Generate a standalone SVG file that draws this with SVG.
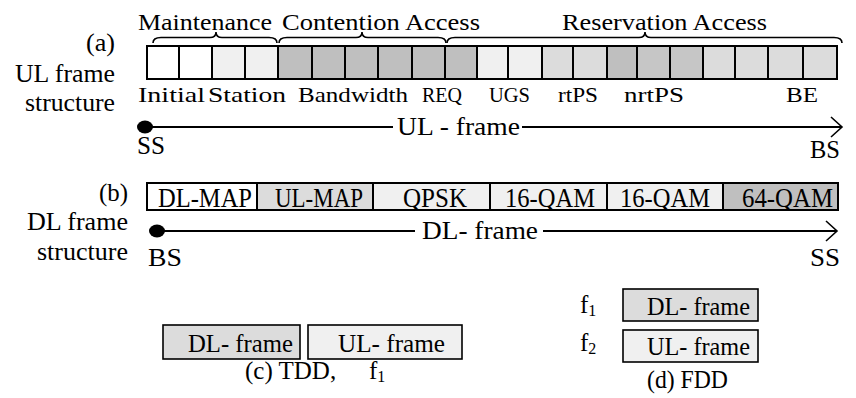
<svg xmlns="http://www.w3.org/2000/svg" width="856" height="398" viewBox="0 0 856 398">
  <style>
    text { font-family: "Liberation Serif", "Times New Roman", serif; fill: #000; }
    .cell { stroke: #000; stroke-width: 2; }
    .frame { fill: none; stroke: #000; stroke-width: 2; }
    .brace { fill: none; stroke: #000; stroke-width: 1.6; }
    .line { stroke: #000; stroke-width: 2; fill: none; }
    .w { fill: #ffffff; }
    .l1 { fill: #f0f0f0; }
    .l2 { fill: #dcdcdc; }
    .g1 { fill: #bfbfbf; }
    .g2 { fill: #c6c6c6; }
    .box { stroke: #000; stroke-width: 1.6; }
    .hdr { font-size: 24px; }
    .lbl { font-size: 22px; }
    .cap { font-size: 25px; }
    .burst { font-size: 27px; }
    .mode { font-size: 26px; }
  </style>
  <defs>
    <marker id="open-arrow" markerUnits="userSpaceOnUse" markerWidth="16" markerHeight="24" refX="12" refY="11" orient="auto">
      <path d="M1,1 L12,11 L1,21" fill="none" stroke="#000" stroke-width="1.6"/>
    </marker>
  </defs>

  <rect width="856" height="398" fill="#fff"/>

  <!-- side captions -->
  <g id="captions">
    <text class="cap" x="86" y="51" textLength="29" lengthAdjust="spacingAndGlyphs">(a)</text>
    <text class="cap" x="15" y="82" textLength="100" lengthAdjust="spacingAndGlyphs">UL frame</text>
    <text class="cap" x="25" y="111" textLength="90" lengthAdjust="spacingAndGlyphs">structure</text>
    <text class="cap" x="99" y="201" textLength="29" lengthAdjust="spacingAndGlyphs">(b)</text>
    <text class="cap" x="27" y="230" textLength="101" lengthAdjust="spacingAndGlyphs">DL frame</text>
    <text class="cap" x="37" y="260" textLength="91" lengthAdjust="spacingAndGlyphs">structure</text>
  </g>

  <!-- UL frame: access groups -->
  <g id="ul-groups">
    <text class="hdr" x="138" y="30" textLength="134" lengthAdjust="spacingAndGlyphs">Maintenance</text>
    <text class="hdr" x="282" y="30" textLength="198" lengthAdjust="spacingAndGlyphs">Contention Access</text>
    <text class="hdr" x="562" y="30" textLength="205" lengthAdjust="spacingAndGlyphs">Reservation Access</text>
    <path class="brace" d="M153,43 Q153,37.5 161,37.5 L210,37.5 Q216,37.5 216,32 Q216,37.5 222,37.5 L269,37.5 Q277,37.5 277,43"/>
    <path class="brace" d="M279,43 Q279,37.5 287,37.5 L356,37.5 Q362,37.5 362,32 Q362,37.5 368,37.5 L438,37.5 Q446,37.5 446,43"/>
    <path class="brace" d="M447,43 Q447,37.5 455,37.5 L639,37.5 Q645,37.5 645,32 Q645,37.5 651,37.5 L834,37.5 Q842,37.5 842,43"/>
  </g>

  <!-- UL frame: slots -->
  <g id="ul-frame">
    <rect class="cell w" x="147" y="46" width="32" height="33"/>
    <rect class="cell w" x="179" y="46" width="33" height="33"/>
    <rect class="cell l1" x="212" y="46" width="33" height="33"/>
    <rect class="cell l1" x="245" y="46" width="33" height="33"/>
    <rect class="cell g1" x="278" y="46" width="34" height="33"/>
    <rect class="cell g1" x="312" y="46" width="33" height="33"/>
    <rect class="cell g1" x="345" y="46" width="33" height="33"/>
    <rect class="cell g1" x="378" y="46" width="34" height="33"/>
    <rect class="cell g1" x="412" y="46" width="33" height="33"/>
    <rect class="cell g1" x="445" y="46" width="32" height="33"/>
    <rect class="cell l1" x="477" y="46" width="31" height="33"/>
    <rect class="cell l1" x="508" y="46" width="34" height="33"/>
    <rect class="cell l2" x="542" y="46" width="31" height="33"/>
    <rect class="cell l2" x="573" y="46" width="34" height="33"/>
    <rect class="cell g1" x="607" y="46" width="30" height="33"/>
    <rect class="cell g2" x="637" y="46" width="33" height="33"/>
    <rect class="cell g2" x="670" y="46" width="33" height="33"/>
    <rect class="cell l2" x="703" y="46" width="32" height="33"/>
    <rect class="cell l2" x="735" y="46" width="33" height="33"/>
    <rect class="cell l2" x="768" y="46" width="35" height="33"/>
    <rect class="cell l2" x="803" y="46" width="34" height="33"/>
    <rect class="frame" x="147" y="46" width="690" height="33"/>
  </g>

  <!-- UL frame: slot labels -->
  <g id="ul-labels">
    <text class="lbl" x="138" y="102" textLength="67" lengthAdjust="spacingAndGlyphs">Initial</text>
    <text class="lbl" x="208" y="102" textLength="78" lengthAdjust="spacingAndGlyphs">Station</text>
    <text class="lbl" x="298" y="102" textLength="110" lengthAdjust="spacingAndGlyphs">Bandwidth</text>
    <text class="lbl" x="422" y="102" textLength="40" lengthAdjust="spacingAndGlyphs">REQ</text>
    <text class="lbl" x="489" y="102" textLength="41" lengthAdjust="spacingAndGlyphs">UGS</text>
    <text class="lbl" x="558" y="102" textLength="40" lengthAdjust="spacingAndGlyphs">rtPS</text>
    <text class="lbl" x="624" y="102" textLength="60" lengthAdjust="spacingAndGlyphs">nrtPS</text>
    <text class="lbl" x="786" y="102" textLength="32" lengthAdjust="spacingAndGlyphs">BE</text>
  </g>

  <!-- DL frame: bursts -->
  <g id="dl-frame">
    <rect class="cell w" x="147" y="183" width="110" height="27"/>
    <rect class="cell l2" x="257" y="183" width="116" height="27"/>
    <rect class="cell l1" x="373" y="183" width="117" height="27"/>
    <rect class="cell l1" x="490" y="183" width="117" height="27"/>
    <rect class="cell l1" x="607" y="183" width="116" height="27"/>
    <rect class="cell g1" x="723" y="183" width="115" height="27"/>
    <rect class="frame" x="147" y="183" width="691" height="27"/>
    <text class="burst" x="158" y="207" textLength="94" lengthAdjust="spacingAndGlyphs">DL-MAP</text>
    <text class="burst" x="275" y="207" textLength="88" lengthAdjust="spacingAndGlyphs">UL-MAP</text>
    <text class="burst" x="403" y="207" textLength="64" lengthAdjust="spacingAndGlyphs">QPSK</text>
    <text class="burst" x="505" y="207" textLength="90" lengthAdjust="spacingAndGlyphs">16-QAM</text>
    <text class="burst" x="620" y="207" textLength="90" lengthAdjust="spacingAndGlyphs">16-QAM</text>
    <text class="burst" x="742" y="207" textLength="91" lengthAdjust="spacingAndGlyphs">64-QAM</text>
  </g>

  <!-- frame direction connectors -->
  <g id="connectors">
    <ellipse cx="145" cy="127" rx="8" ry="6.5"/>
    <line class="line" x1="145" y1="127" x2="393" y2="127"/>
    <line class="line" x1="522" y1="127" x2="842" y2="127" marker-end="url(#open-arrow)"/>
    <ellipse cx="157" cy="231" rx="8" ry="6.5"/>
    <line class="line" x1="157" y1="231" x2="415" y2="231"/>
    <line class="line" x1="543" y1="231" x2="837" y2="231" marker-end="url(#open-arrow)"/>
  </g>

  <g id="connector-labels">
    <text class="cap" x="397" y="135" textLength="123" lengthAdjust="spacingAndGlyphs">UL - frame</text>
    <text class="cap" x="137" y="154" textLength="28" lengthAdjust="spacingAndGlyphs">SS</text>
    <text class="cap" x="810" y="158" textLength="30" lengthAdjust="spacingAndGlyphs">BS</text>
    <text class="cap" x="422" y="239" textLength="116" lengthAdjust="spacingAndGlyphs">DL- frame</text>
    <text class="cap" x="148" y="266" textLength="34" lengthAdjust="spacingAndGlyphs">BS</text>
    <text class="cap" x="810" y="266" textLength="30" lengthAdjust="spacingAndGlyphs">SS</text>
  </g>

  <!-- (c) TDD -->
  <g id="tdd">
    <rect class="box l2" x="163" y="325" width="137" height="34"/>
    <rect class="box l1" x="308" y="325" width="154" height="34"/>
    <text class="mode" x="188" y="352" textLength="105" lengthAdjust="spacingAndGlyphs">DL- frame</text>
    <text class="mode" x="338" y="352" textLength="107" lengthAdjust="spacingAndGlyphs">UL- frame</text>
    <text class="cap" x="245" y="379">(c) TDD,<tspan x="369">f</tspan><tspan font-size="16" dy="3">1</tspan></text>
  </g>

  <!-- (d) FDD -->
  <g id="fdd">
    <rect class="box l2" x="623" y="289" width="135" height="32"/>
    <rect class="box l1" x="623" y="330" width="135" height="32"/>
    <text class="mode" x="647" y="315" textLength="103" lengthAdjust="spacingAndGlyphs">DL- frame</text>
    <text class="mode" x="647" y="355" textLength="103" lengthAdjust="spacingAndGlyphs">UL- frame</text>
    <text class="cap" x="580" y="313">f<tspan font-size="16" dy="3">1</tspan></text>
    <text class="cap" x="580" y="351">f<tspan font-size="16" dy="3">2</tspan></text>
    <text class="cap" x="647" y="388" textLength="81" lengthAdjust="spacingAndGlyphs">(d) FDD</text>
  </g>
</svg>
